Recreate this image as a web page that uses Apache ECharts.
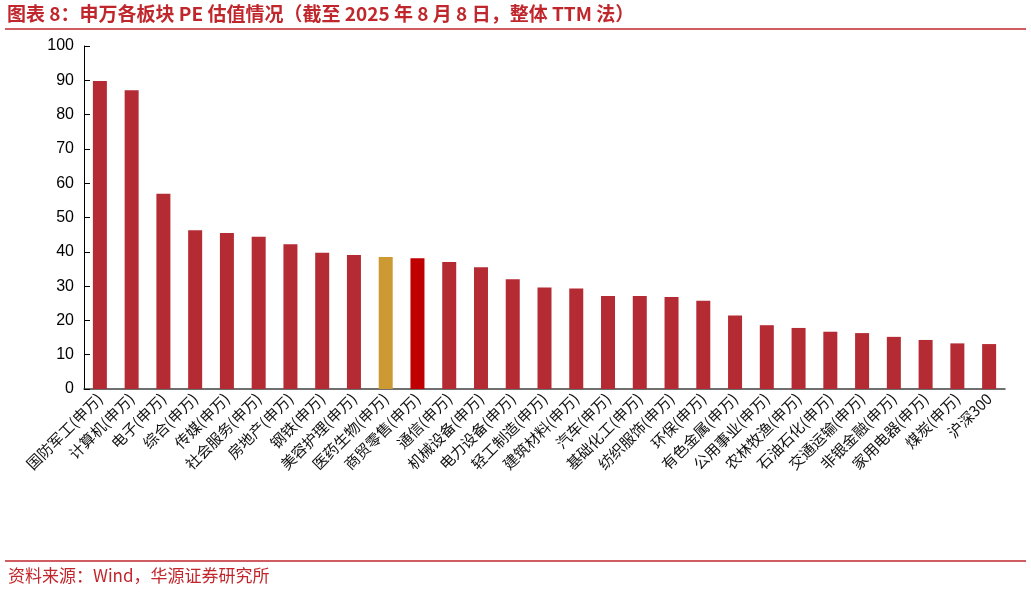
<!DOCTYPE html>
<html><head><meta charset="utf-8">
<script src="https://cdn.jsdelivr.net/npm/echarts@6/dist/echarts.min.js"></script>
<style>html,body{margin:0;padding:0;background:#fff}#c{width:1031px;height:593px}</style>
</head><body><div id="c"></div>
<script>
const categories = ['国防军工(申万)','计算机(申万)','电子(申万)','综合(申万)','传媒(申万)','社会服务(申万)','房地产(申万)','钢铁(申万)','美容护理(申万)','医药生物(申万)','商贸零售(申万)','通信(申万)','机械设备(申万)','电力设备(申万)','轻工制造(申万)','建筑材料(申万)','汽车(申万)','基础化工(申万)','纺织服饰(申万)','环保(申万)','有色金属(申万)','公用事业(申万)','农林牧渔(申万)','石油石化(申万)','交通运输(申万)','非银金融(申万)','家用电器(申万)','煤炭(申万)','沪深300'];
const peValues = [89.8,87.1,56.9,46.3,45.5,44.4,42.2,39.7,39.1,38.5,38.1,37.0,35.5,32.0,29.6,29.3,27.1,27.1,26.8,25.7,21.4,18.6,17.8,16.7,16.3,15.2,14.3,13.3,13.1];
const yTicks = [0,10,20,30,40,50,60,70,80,90,100];
const highlight = {'医药生物(申万)':'#CC9933','商贸零售(申万)':'#C00000'};

const chart = echarts.init(document.getElementById('c'));
chart.setOption({
  animation:false,
  grid:{left:84,right:26,top:46,bottom:204},
  xAxis:{type:'category',data:categories,
    axisLine:{lineStyle:{color:'#404040',width:1.5}},
    axisTick:{inside:true,length:5,lineStyle:{color:'#000'}},
    axisLabel:{rotate:45,interval:0,fontSize:15,color:'#111',margin:7,
      fontFamily:'"Noto Sans CJK SC", sans-serif'}},
  yAxis:{type:'value',min:yTicks[0],max:yTicks[yTicks.length-1],interval:10,
    splitLine:{show:false},
    axisLine:{show:true,lineStyle:{color:'#000'}},
    axisTick:{show:true,inside:true,length:6,lineStyle:{color:'#000'}},
    axisLabel:{fontSize:16,color:'#000',margin:10,fontFamily:'"Liberation Sans", Arial, sans-serif'}},
  series:[{type:'bar',barWidth:14,
    data:peValues.map((v,i)=>({value:v,itemStyle:{color:highlight[categories[i]]||'#B52B33'}}))}],
  graphic:[
    {type:'text',left:7,top:4,style:{text:'图表 8：申万各板块 PE 估值情况（截至 2025 年 8 月 8 日，整体 TTM 法）',
      fill:'#C0272D',font:'bold 19px "Noto Sans CJK SC", sans-serif'}},
    {type:'line',shape:{x1:5,y1:29,x2:1026,y2:29},style:{stroke:'#C0272D',lineWidth:1.5}},
    {type:'line',shape:{x1:5,y1:561,x2:1026,y2:561},style:{stroke:'#C0272D',lineWidth:1.5}},
    {type:'text',left:8,top:567,style:{text:'资料来源：Wind，华源证券研究所',
      fill:'#C0272D',font:'17px "Noto Sans CJK SC", monospace'}}
  ]
});
</script></body></html>
